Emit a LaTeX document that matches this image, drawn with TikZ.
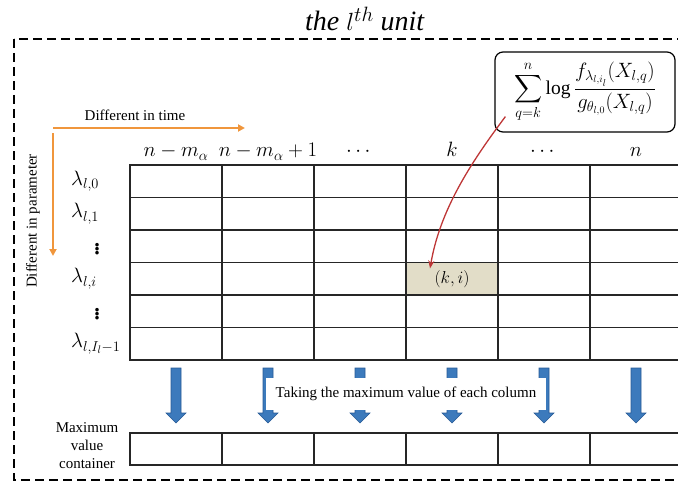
\documentclass[tikz,border=0pt]{standalone}
\usepackage{amsmath,amssymb}
\usepackage{fontspec}
\setmainfont{Liberation Serif}
\usetikzlibrary{calc, arrows.meta, positioning}

\definecolor{orangearr}{RGB}{240,150,60}
\definecolor{redarr}{RGB}{190,55,55}
\definecolor{bluefill}{RGB}{60,122,188}
\definecolor{blueline}{RGB}{40,90,150}
\definecolor{cellhl}{RGB}{226,221,200}

\tikzset{
  cell/.style={draw=black!85, line width=1.4pt, minimum width=92pt, minimum height=32.5pt, inner sep=0pt, outer sep=0pt},
  lab/.style={font=\fontsize{20}{24}\selectfont},
  rowlab/.style={font=\fontsize{22}{26}\selectfont, inner sep=0pt},
  txt/.style={font=\fontsize{15}{18}\selectfont},
  orangeline/.style={draw=orangearr, line width=1.8pt, -{Triangle[length=7pt,width=7pt]}},
  maxarrow/.style={fill=bluefill, draw=blueline, line width=0.6pt},
}

\begin{document}
\begin{tikzpicture}[x=1pt, y=-1pt]
        \clip (0,0) rectangle (678,487);

        % title and frame
        \node[font=\fontsize{28}{32}\selectfont] (title) at (365,19) {\textit{the $l^{th}$ unit}};
        \draw[line width=2.5pt, dash pattern=on 9pt off 5pt] (14,39) rectangle (700,480);

        % grid of values
        \foreach \r in {0,...,5}
            \foreach \c in {1,...,6}
                \node[cell] (g-\r-\c) at ({130+92*(\c-0.5)}, {165+32.5*(\r+0.5)}) {};
        \node[cell, fill=cellhl, font=\fontsize{18}{20}\selectfont] (cellki) at (g-3-4) {$(k,i)$};

        % column heads
        \foreach \c/\t in {1/{n-m_\alpha}, 2/{n-m_\alpha+1}, 3/{\cdots}, 4/k, 5/{\cdots}, 6/n}
            \node[lab, anchor=base] (h\c) at ($(g-0-\c.north)+(0,-8)$) {$\t$};

        % row heads
        \foreach \r/\t in {0/{\lambda_{l,0}}, 1/{\lambda_{l,1}}, 3/{\lambda_{l,i}}, 5/{\lambda_{l,I_l-1}}}
            \node[rowlab, anchor=west] (r\r) at ($(g-\r-1.west)+(-59,0)$) {$\t$};
        \foreach \r in {2,4}
            \node[rowlab, font=\fontsize{30}{34}\selectfont] (r\r) at ($(g-\r-1.west)+(-33,0)$) {$\vdots$};

        % directions
        \coordinate (t0) at (53,128);
        \coordinate (t1) at (245,128);
        \coordinate (p0) at (53,133);
        \coordinate (p1) at (53,256);
        \draw[orangeline] (t0) -- (t1);
        \draw[orangeline] (p0) -- (p1);
        \node[txt] (ttime) at (135,115) {Different in time};
        \node[txt, rotate=90] (tpar) at (33,221) {Different in parameter};

        % formula
        \node[draw, rounded corners=8pt, line width=1.2pt, minimum width=180pt, minimum height=80pt,
              inner sep=2pt, font=\fontsize{19.5}{22}\selectfont] (formula) at (585,92)
              {$\displaystyle\sum_{q=k}^{n}\log\frac{f_{\lambda_{l,i_l}}(X_{l,q})}{g_{\theta_{l,0}}(X_{l,q})}$};
        \coordinate (src) at ($(formula.south west)+(11,-16)$);
        \coordinate (dst) at ($(cellki.north west)+(24,6)$);
        \draw[redarr, line width=1.3pt, -{Stealth[length=8pt,width=6pt]}]
            (src) .. controls ($(src)+(-36,48)$) and ($(dst)+(10,-58)$) .. (dst);

        % maximum of each column
        \foreach \c in {1,...,6} {
            \draw[maxarrow] ($(g-5-\c.south)+(-5,8)$) -- ++(10,0) -- ++(0,45) -- ++(5,0)
                -- ++(-10,10) -- ++(-10,-10) -- ++(5,0) -- cycle;
            \node[cell, minimum height=32pt] (m\c) at ({130+92*(\c-0.5)}, 449) {};
        }
        \node[txt, fill=white, minimum width=280pt, minimum height=32pt, inner sep=0pt] (tmax) at (406,394)
            {Taking the maximum value of each column};
        \node[txt, align=center] (tcont) at (87,446) {Maximum\\value\\container};
\end{tikzpicture}
\end{document}
